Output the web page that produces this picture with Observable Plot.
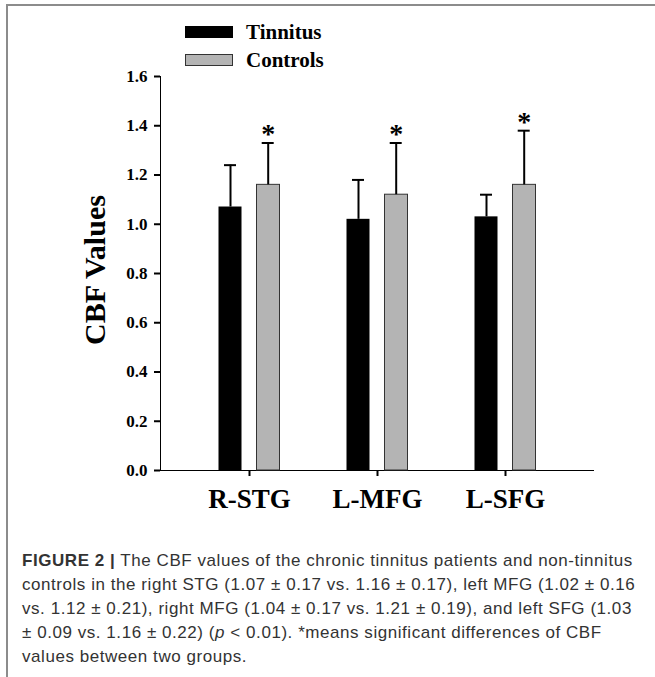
<!DOCTYPE html>
<html><head><meta charset="utf-8">
<script src="https://cdn.jsdelivr.net/npm/d3@7"></script>
<script src="https://cdn.jsdelivr.net/npm/@observablehq/plot@0.6"></script>
<style>
body{margin:0;background:#fff;width:655px;height:677px;position:relative;overflow:hidden}
#frame{position:absolute;left:6px;top:4px;right:-4px;bottom:-4px;border-top:2px solid #8c8c8c;border-left:2px solid #8c8c8c;z-index:2;pointer-events:none}
#legend{position:absolute;left:185px;top:18px;font:bold 21px "Liberation Serif",serif;color:#000;z-index:3}
.item{display:flex;align-items:center;height:28px}
.sw{width:48px;height:12px;margin-right:13px;box-sizing:border-box}
#chart{position:absolute;left:0;top:60px;z-index:1}
#chart svg{overflow:visible}
#chart [aria-label="x-axis tick label"] text,#chart [aria-label="x-axis"] text{font-size:27px}
#chart [aria-label="y-axis tick label"] text,#chart [aria-label="y-axis"] text{font-size:17px}
#chart [aria-label*="axis"] path,#chart [aria-label*="axis"] line{stroke-width:2px}
#ylabel{position:absolute;left:95px;top:270px;transform:translate(-50%,-50%) rotate(-90deg);font:bold 30px "Liberation Serif",serif;white-space:nowrap;z-index:3}
#caption{position:absolute;left:22px;top:549px;font:17px/24px "Liberation Sans",sans-serif;color:#333;white-space:nowrap;letter-spacing:0.55px;z-index:3}
</style></head>
<body>
<div id="frame"></div>
<div id="legend"></div>
<div id="chart"></div>
<div id="ylabel">CBF Values</div>
<div id="caption"></div>
<script>
const regions = ["R-STG", "L-MFG", "L-SFG"];
const groups = ["Tinnitus", "Controls"];
const groupFill = ["#000000", "#b4b4b4"];
const tinnitusMean = [1.07, 1.02, 1.03];
const tinnitusSD = [0.17, 0.16, 0.09];
const controlsMean = [1.16, 1.12, 1.16];
const controlsSD = [0.17, 0.21, 0.22];
const significant = [true, true, true];
const yTicks = [0, 0.2, 0.4, 0.6, 0.8, 1.0, 1.2, 1.4, 1.6];
const captionLines = [
  "<b>FIGURE 2 |</b> The CBF values of the chronic tinnitus patients and non-tinnitus",
  "controls in the right STG (1.07 ± 0.17 vs. 1.16 ± 0.17), left MFG (1.02 ± 0.16",
  "vs. 1.12 ± 0.21), right MFG (1.04 ± 0.17 vs. 1.21 ± 0.19), and left SFG (1.03",
  "± 0.09 vs. 1.16 ± 0.22) (<i>p</i> &lt; 0.01). *means significant differences of CBF",
  "values between two groups."
];

const T = regions.map((r, i) => ({region: r, group: groups[0], mean: tinnitusMean[i], sd: tinnitusSD[i]}));
const C = regions.map((r, i) => ({region: r, group: groups[1], mean: controlsMean[i], sd: controlsSD[i], sig: significant[i]}));

// legend
const legend = document.getElementById("legend");
groups.forEach((g, i) => {
  const it = document.createElement("div"); it.className = "item";
  const sw = document.createElement("div"); sw.className = "sw";
  sw.style.background = groupFill[i];
  sw.style.border = i ? "1.5px solid #333" : "none";
  const t = document.createElement("span"); t.textContent = g;
  it.append(sw, t); legend.append(it);
});

const plot = Plot.plot({
  width: 655, height: 470,
  marginTop: 16, marginBottom: 60, marginLeft: 160, marginRight: 62,
  style: {fontFamily: "Liberation Serif", fontWeight: "bold", background: "transparent", color: "black", overflow: "visible"},
  x: {domain: regions, padding: 0.363, label: null, tickSize: 6, tickPadding: 12, line: true},
  y: {domain: [0, 1.6], ticks: yTicks, tickFormat: d3.format(".1f"), label: null, tickSize: 6, tickPadding: 7, line: true},
  marks: [
    Plot.barY(T, {x: "region", y: "mean", fill: groupFill[0], insetLeft: 10.5, insetRight: 48.5}),
    Plot.barY(C, {x: "region", y: "mean", fill: groupFill[1], stroke: "#333", strokeWidth: 1, insetLeft: 48.5, insetRight: 10.5}),
    Plot.ruleX(T, {x: "region", y1: "mean", y2: d => d.mean + d.sd, dx: -19, stroke: "black", strokeWidth: 2}),
    Plot.ruleX(C, {x: "region", y1: "mean", y2: d => d.mean + d.sd, dx: 18.7, stroke: "black", strokeWidth: 2}),
    Plot.tickY(T, {x: "region", y: d => d.mean + d.sd, insetLeft: 16, insetRight: 54, stroke: "black", strokeWidth: 2}),
    Plot.tickY(C, {x: "region", y: d => d.mean + d.sd, insetLeft: 53.7, insetRight: 16.3, stroke: "black", strokeWidth: 2}),
    Plot.text(C.filter(d => d.sig), {x: "region", y: d => d.mean + d.sd, text: () => "*", dx: 18.7, dy: -9, fontSize: 28, fontWeight: "bold", fill: "black"})
  ]
});
document.getElementById("chart").append(plot);
document.getElementById("caption").innerHTML = captionLines.join("<br>");
</script>
</body></html>
